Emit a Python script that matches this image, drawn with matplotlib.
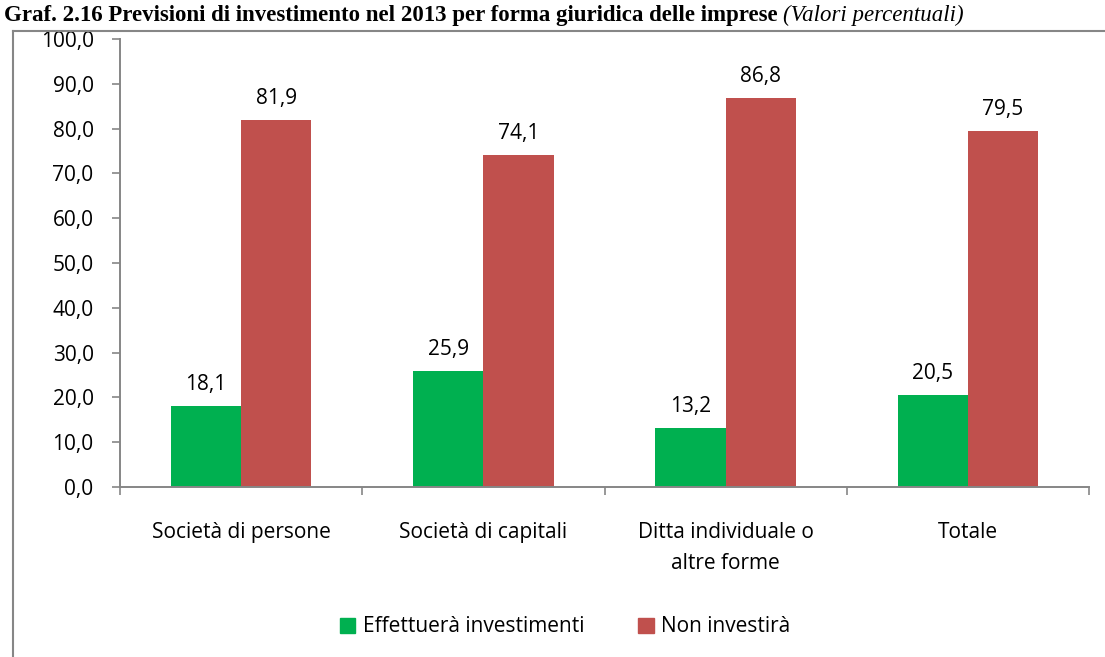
import matplotlib
matplotlib.use("Agg")
import matplotlib.pyplot as plt
import numpy as np
from matplotlib.lines import Line2D
from matplotlib.patches import Patch

categories = ["Società di persone", "Società di capitali", "Ditta individuale o\naltre forme", "Totale"]
investono = [18.1, 25.9, 13.2, 20.5]
non_investono = [81.9, 74.1, 86.8, 79.5]
series_names = ["Effettuerà investimenti", "Non investirà"]
yticks = [0, 10, 20, 30, 40, 50, 60, 70, 80, 90, 100]
title_main = "Graf. 2.16 Previsioni di investimento nel 2013 per forma giuridica delle imprese "
title_note = "(Valori percentuali)"

GREEN = "#00B050"
RED = "#C0504D"
GRAY = "#868686"
FONT = "Open Sans"
FS = 15

W, H = 1105, 657
fig = plt.figure(figsize=(W / 100, H / 100), dpi=100)

# axes in pixel coordinates
left, right, top, bottom = 120, 1089, 39, 487
ax = fig.add_axes([left / W, 1 - bottom / H, (right - left) / W, (bottom - top) / H])

x = np.arange(len(categories))
bw = 0.29
b1 = ax.bar(x - bw / 2, investono, bw, color=GREEN, label=series_names[0])
b2 = ax.bar(x + bw / 2, non_investono, bw, color=RED, label=series_names[1])

for bars, vals in ((b1, investono), (b2, non_investono)):
    for r, v in zip(bars, vals):
        ax.annotate(f"{v:.1f}".replace(".", ","), (r.get_x() + r.get_width() / 2, v),
                    xytext=(0, 8), textcoords="offset points", ha="center", va="bottom",
                    fontsize=FS, family=FONT, color="black")

ax.set_xlim(-0.5, len(categories) - 0.5)
ax.set_ylim(0, 100)
ax.set_yticks(yticks)
ax.set_yticklabels([f"{t:.1f}".replace(".", ",") for t in yticks], fontsize=FS, family=FONT)
ax.set_xticks(x)
ax.set_xticklabels(categories, fontsize=FS, family=FONT, linespacing=1.65, va="top")
ax.tick_params(axis="x", length=0, pad=25)
ax.tick_params(axis="y", length=6, width=1.2, color=GRAY, pad=13, direction="out")
# category separators on x axis
ax.set_xticks(np.arange(len(categories) + 1) - 0.5, minor=True)
ax.tick_params(axis="x", which="minor", length=6, width=1.2, color=GRAY, direction="out")

for s in ("top", "right"):
    ax.spines[s].set_visible(False)
for s in ("left", "bottom"):
    ax.spines[s].set_color(GRAY)
    ax.spines[s].set_linewidth(1.4)

# legend
handles = [Patch(color=GREEN), Patch(color=RED)]
fig.legend(handles, series_names, loc="center", bbox_to_anchor=(565 / W, 1 - 627 / H),
           ncol=2, frameon=False, prop={"family": FONT, "size": FS},
           handlelength=0.75, handleheight=0.75, handletextpad=0.35, columnspacing=2.6)

# outer chart frame (partially visible)
fig.add_artist(Line2D([13 / W, 13 / W], [0, 1 - 31 / H], transform=fig.transFigure, color=GRAY, lw=1.5))
fig.add_artist(Line2D([13 / W, 1], [1 - 31 / H, 1 - 31 / H], transform=fig.transFigure, color=GRAY, lw=1.5))

# title
t1 = fig.text(4 / W, 1 - 21 / H, title_main,
              fontsize=16.5, family="Liberation Serif", weight="bold", va="baseline", ha="left")
fig.canvas.draw()
bb = t1.get_window_extent()
fig.text(bb.x1 / W, 1 - 21 / H, title_note, fontsize=16.5, family="Liberation Serif",
         style="italic", va="baseline", ha="left")

fig.savefig("out.png", dpi=100)
